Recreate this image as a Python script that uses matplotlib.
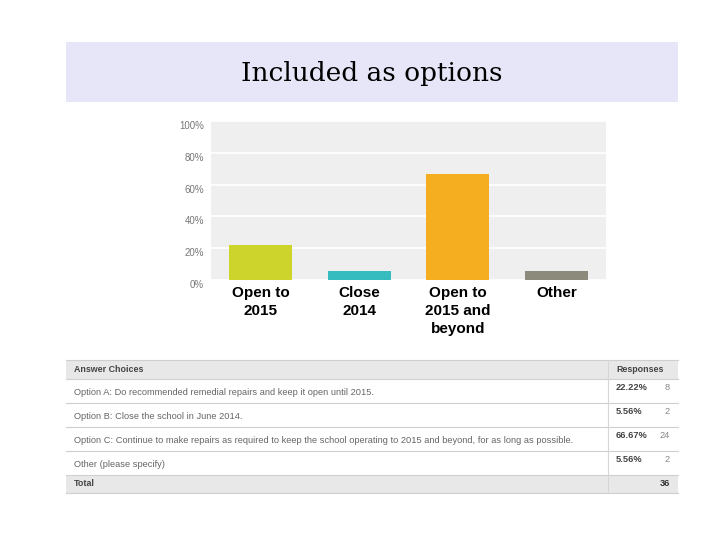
import matplotlib
matplotlib.use("Agg")
import matplotlib.pyplot as plt
from matplotlib.patches import Rectangle

title = "Included as options"
categories = ["Open to\n2015", "Close\n2014", "Open to\n2015 and\nbeyond", "Other"]
percents = [22.22, 5.56, 66.67, 5.56]
bar_colors = ["#cdd42b", "#36bcbf", "#f5ae20", "#8b8a7b"]
yticks = [0, 20, 40, 60, 80, 100]
ytick_labels = ["0%", "20%", "40%", "60%", "80%", "100%"]

table_header = ["Answer Choices", "Responses"]
choices = [
    "Option A: Do recommended remedial repairs and keep it open until 2015.",
    "Option B: Close the school in June 2014.",
    "Option C: Continue to make repairs as required to keep the school operating to 2015 and beyond, for as long as possible.",
    "Other (please specify)",
]
response_pct = ["22.22%", "5.56%", "66.67%", "5.56%"]
response_n = [8, 2, 24, 2]
total_label = "Total"
total_n = 36

W, H = 720, 540
fig = plt.figure(figsize=(7.2, 5.4), dpi=100)
fig.patch.set_facecolor("white")

# overlay axes in pixel coordinates for title band & table
ov = fig.add_axes([0, 0, 1, 1])
ov.set_xlim(0, W)
ov.set_ylim(H, 0)
ov.axis("off")

ov.add_patch(Rectangle((66, 42), 612, 60, facecolor="#e6e6f8", edgecolor="none"))
ov.text(372, 73, title, ha="center", va="center", fontsize=19,
        family="DejaVu Serif", color="black")

# table
x0, x1, xdiv = 66, 678, 608
rows_y = [360, 379, 403, 427, 451, 475, 493]
ov.add_patch(Rectangle((x0, rows_y[0]), x1 - x0, rows_y[1] - rows_y[0],
                       facecolor="#e8e8e8", edgecolor="none"))
ov.add_patch(Rectangle((x0, rows_y[5]), x1 - x0, rows_y[6] - rows_y[5],
                       facecolor="#e8e8e8", edgecolor="none"))
for y in rows_y:
    ov.plot([x0, x1], [y, y], color="#cfcfcf", lw=0.8)
ov.plot([xdiv, xdiv], [rows_y[0], rows_y[6]], color="#d6d6d6", lw=0.8)

tfs = 6.7
tcol = "#666666"
ov.text(74, (rows_y[0] + rows_y[1]) / 2, table_header[0], ha="left", va="center",
        fontsize=tfs - 0.3, color="#444444", fontweight="bold", family="Liberation Sans")
ov.text(616, (rows_y[0] + rows_y[1]) / 2, table_header[1], ha="left", va="center",
        fontsize=tfs - 0.3, color="#444444", fontweight="bold", family="Liberation Sans")
for i, (c, p, n) in enumerate(zip(choices, response_pct, response_n)):
    ya, yb = rows_y[i + 1], rows_y[i + 2]
    ov.text(74, (ya + yb) / 2 + 1.5, c, ha="left", va="center", fontsize=tfs,
            color=tcol, family="Liberation Sans")
    ov.text(616, ya + 9, p, ha="left", va="center", fontsize=tfs,
            color="#444444", fontweight="bold", family="Liberation Sans")
    ov.text(670, ya + 9, str(n), ha="right", va="center", fontsize=tfs,
            color="#888888", family="Liberation Sans")
ov.text(74, (rows_y[5] + rows_y[6]) / 2, total_label, ha="left", va="center",
        fontsize=tfs - 0.3, color="#444444", fontweight="bold", family="Liberation Sans")
ov.text(670, (rows_y[5] + rows_y[6]) / 2, str(total_n), ha="right", va="center",
        fontsize=tfs, color="#333333", fontweight="bold", family="Liberation Sans")

# bar chart
ax = fig.add_axes([211 / W, 1 - 280 / H, 395 / W, 159 / H])
ax.set_facecolor("#efefef")
x = list(range(len(categories)))
ax.bar(x, percents, width=0.64, color=bar_colors, zorder=3)
ax.set_xlim(-0.5, len(categories) - 0.5)
ax.set_ylim(0, 100)
ax.set_yticks(yticks)
ax.set_yticklabels(ytick_labels, fontsize=7, color="#777777", family="Liberation Sans")
for lab in ax.get_yticklabels():
    lab.set_verticalalignment("top")
ax.yaxis.grid(True, color="white", lw=1.2, zorder=1)
ax.tick_params(axis="y", length=0, pad=5)
ax.set_xticks(x)
ax.set_xticklabels(categories, fontsize=11, fontweight="bold",
                   family="Liberation Sans", color="black", linespacing=1.4,
                   va="top")
ax.tick_params(axis="x", length=0, pad=4)
for s in ax.spines.values():
    s.set_visible(False)

fig.savefig("out.png", dpi=100, facecolor="white")
